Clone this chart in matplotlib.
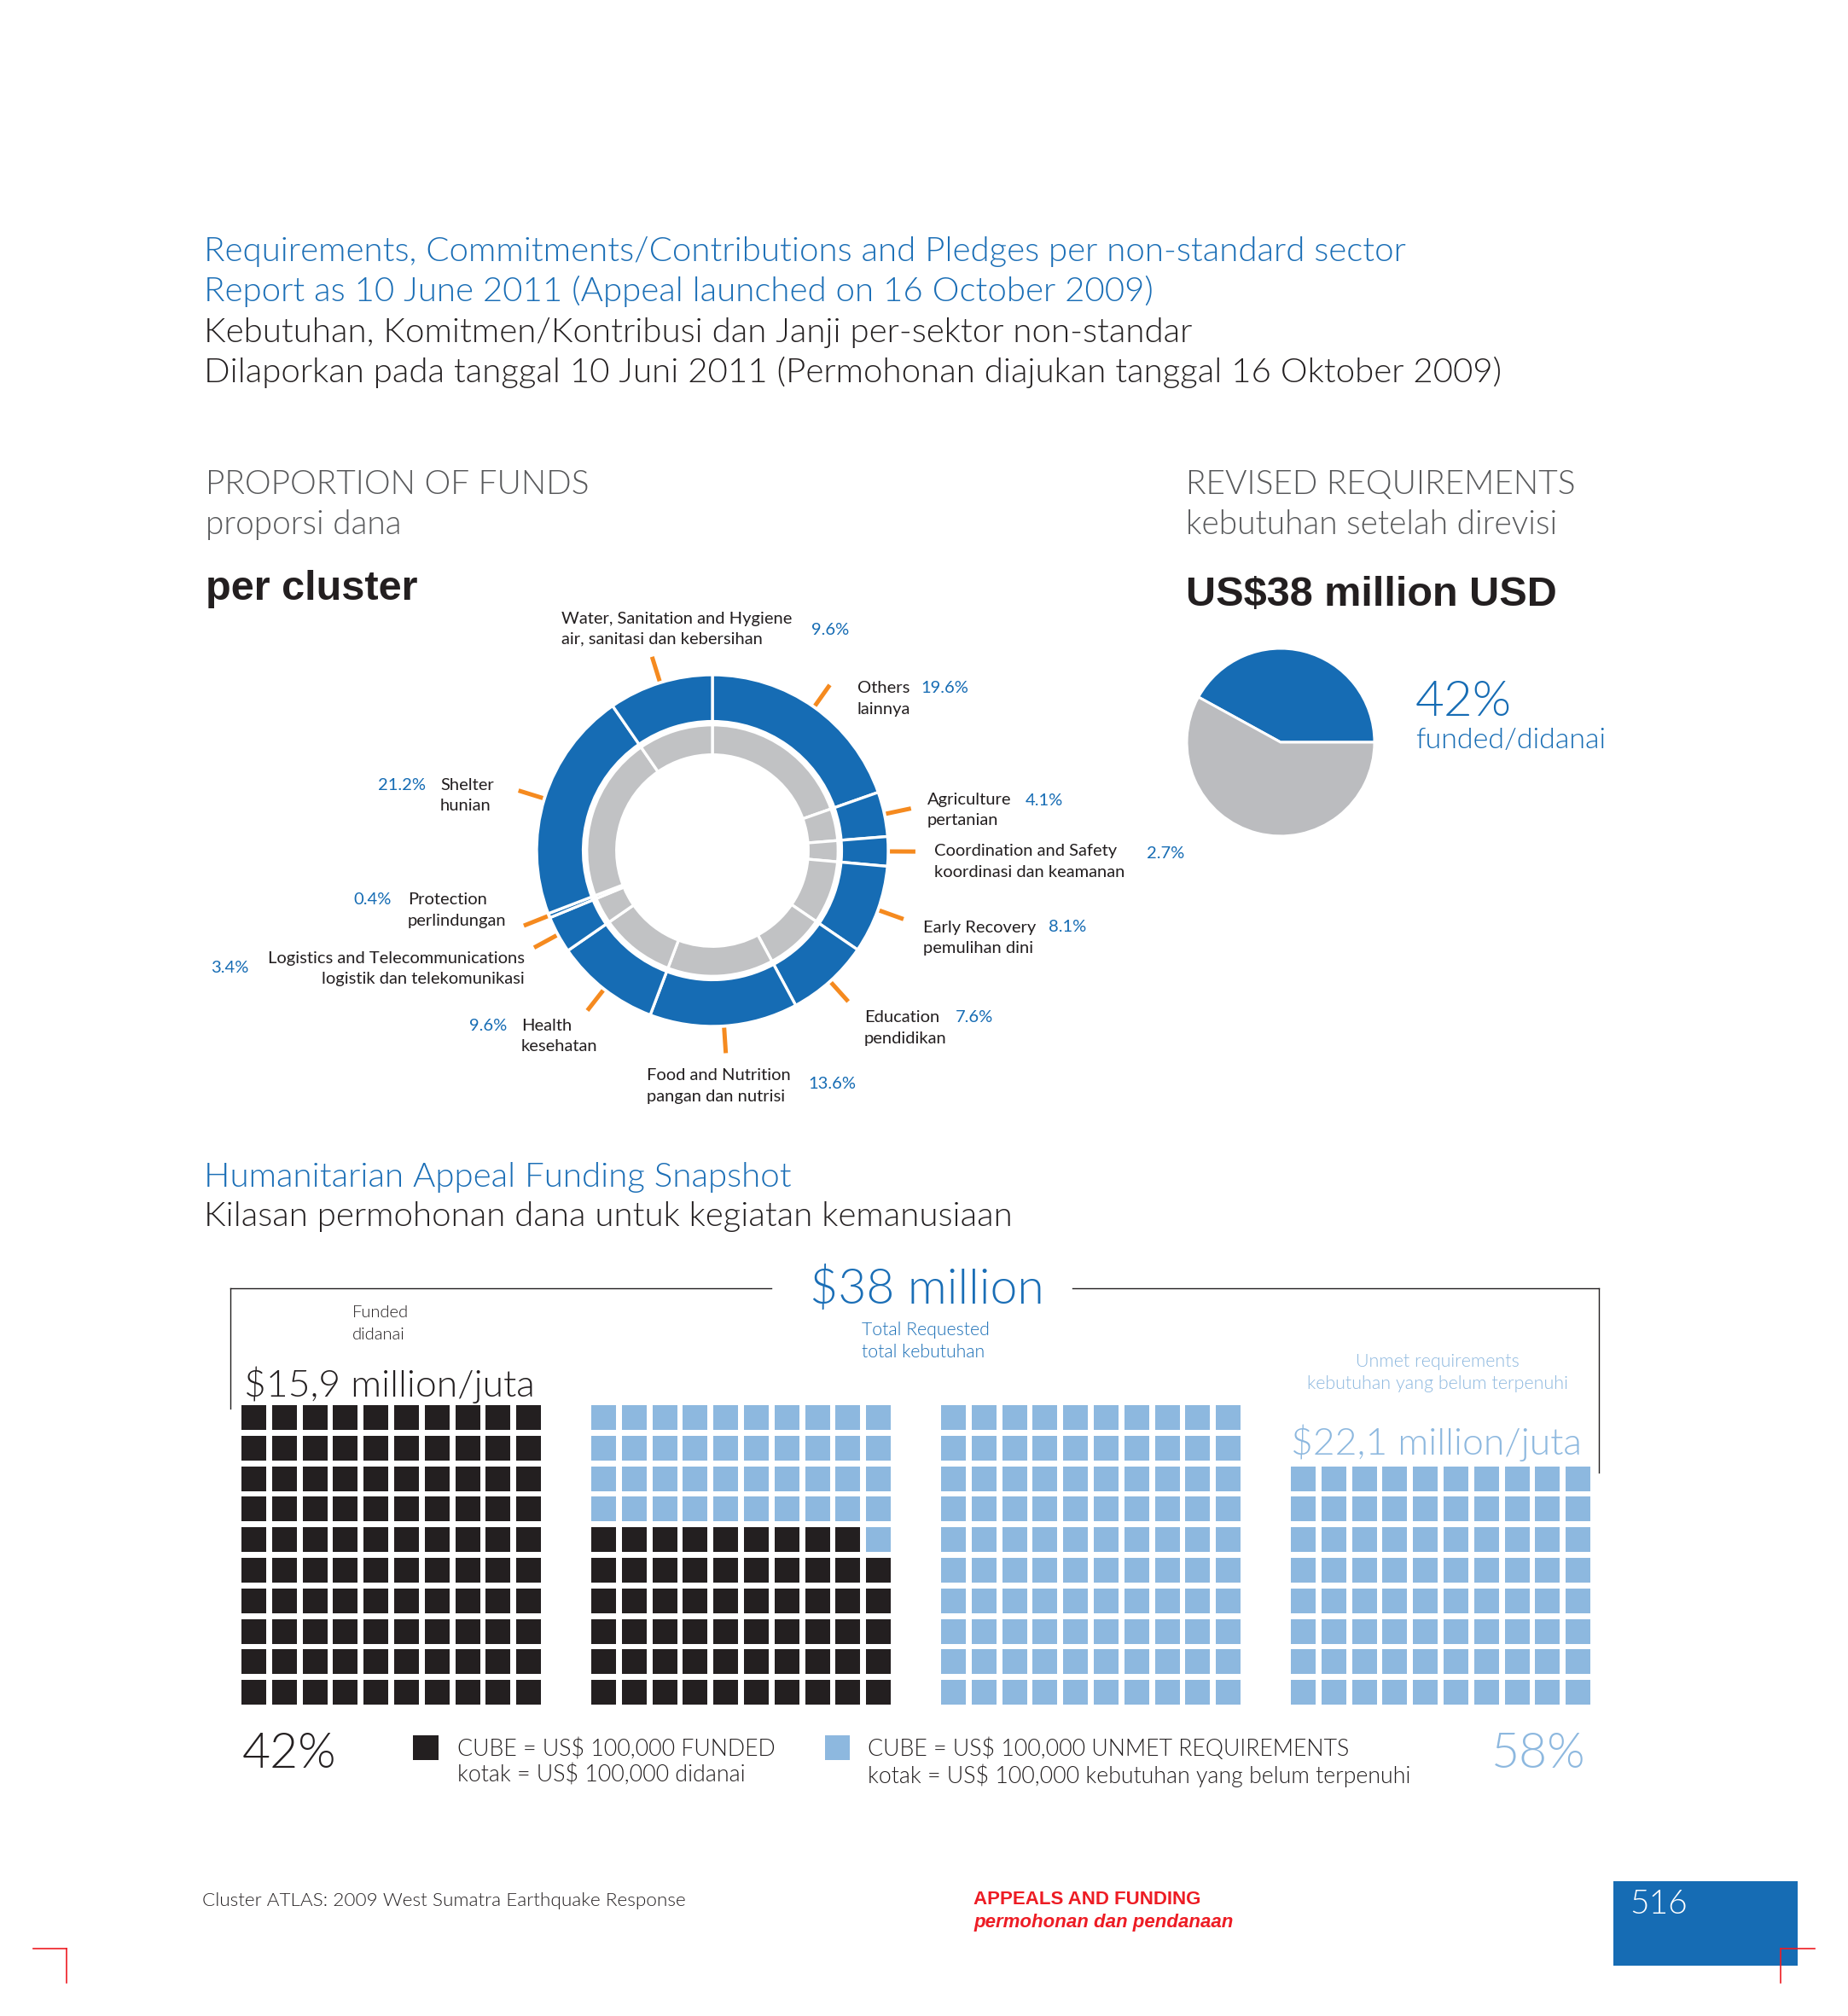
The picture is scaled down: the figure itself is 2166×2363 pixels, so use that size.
import matplotlib.pyplot as plt
from matplotlib.patches import Rectangle
import numpy as np

# COLORS
BLUE = '#166cb4'
TITLE_BLUE = '#1a6eb6'
LIGHT_BLUE = '#8db8df'
RING_GRAY = '#c1c2c4'
PIE_GRAY = '#bbbcbf'
ORANGE = '#f58a1f'
BLACK = '#231f20'
HEAD_GRAY = '#58595b'
RED = '#ed1c24'
FONT = 'Lato'
BOLD_FONT = 'Liberation Sans'

# DATA
sectors = ['Others', 'Agriculture', 'Coordination and Safety', 'Early Recovery',
           'Education', 'Food and Nutrition', 'Health',
           'Logistics and Telecommunications', 'Protection', 'Shelter',
           'Water, Sanitation and Hygiene']
sectors_id = ['lainnya', 'pertanian', 'koordinasi dan keamanan', 'pemulihan dini',
              'pendidikan', 'pangan dan nutrisi', 'kesehatan',
              'logistik dan telekomunikasi', 'perlindungan', 'hunian',
              'air, sanitasi dan kebersihan']
shares = [19.6, 4.1, 2.7, 8.1, 7.6, 13.6, 9.6, 3.4, 0.4, 21.2, 9.6]

funded_pct = 42
unmet_pct = 58
total_requested = 38.0    # US$ million
funded_musd = 15.9
unmet_musd = 22.1
cube_value = 0.1          # US$ million per cube
cubes_per_grid = 100

# label layout around the donut (pixels): name x, line1 y, line2 y, pct x, pct y, name ha, pct ha
label_layout = [
    (1005, 807, 832, 1079, 806, 'left', 'left'),
    (1087, 937, 962, 1202, 938, 'left', 'left'),
    (1095, 998, 1022, 1344, 1001, 'left', 'left'),
    (1082, 1087, 1111, 1229, 1087, 'left', 'left'),
    (1013, 1192, 1217, 1120, 1192, 'left', 'left'),
    (758, 1261, 1286, 947, 1270, 'left', 'left'),
    (611, 1202, 1227, 594, 1202, 'left', 'right'),
    (615, 1123, 1147, 247, 1135, 'right', 'left'),
    (478, 1055, 1080, 459, 1055, 'left', 'right'),
    (516, 920, 945, 499, 920, 'left', 'right'),
    (658, 725, 749, 951, 739, 'left', 'left'),
]

W, H = 2166, 2363
fig = plt.figure(figsize=(W / 100, H / 100), dpi=100)
fig.patch.set_facecolor('w')

# FULL PAGE AXES IN PIXELS
ax = fig.add_axes([0, 0, 1, 1])
ax.set_xlim(0, W)
ax.set_ylim(H, 0)
ax.axis('off')


def txt(x, y, s, size, color=BLACK, ha='left', va='baseline', weight=300,
        family=FONT, **kw):
    ax.text(x, y, s, fontsize=size, color=color, ha=ha, va=va,
            fontweight=weight, fontfamily=family, **kw)


# TITLES
txt(239, 306, 'Requirements, Commitments/Contributions and Pledges per non-standard sector', 29, TITLE_BLUE)
txt(239, 353, 'Report as 10 June 2011 (Appeal launched on 16 October 2009)', 29, TITLE_BLUE)
txt(239, 401, 'Kebutuhan, Komitmen/Kontribusi dan Janji per-sektor non-standar', 29, BLACK)
txt(239, 448, 'Dilaporkan pada tanggal 10 Juni 2011 (Permohonan diajukan tanggal 16 Oktober 2009)', 29, BLACK)

txt(241, 579, 'PROPORTION OF FUNDS', 28, HEAD_GRAY)
txt(241, 626, 'proporsi dana', 28, HEAD_GRAY)
txt(241, 703, 'per cluster', 35, BLACK, weight='bold', family=BOLD_FONT)

txt(1390, 579, 'REVISED REQUIREMENTS', 28, HEAD_GRAY)
txt(1390, 626, 'kebutuhan setelah direvisi', 28, HEAD_GRAY)
txt(1390, 710, 'US$%d million USD' % total_requested, 35, BLACK, weight='bold', family=BOLD_FONT)

# DONUT
cx, cy, R, half = 835, 997, 206, 245
dax = fig.add_axes([(cx - half) / W, (H - cy - half) / H, 2 * half / W, 2 * half / H])
dax.pie(shares, radius=1.0, startangle=90, counterclock=False,
        colors=[BLUE] * len(shares),
        wedgeprops=dict(width=0.265, edgecolor='white', linewidth=2.4))
dax.pie(shares, radius=0.715, startangle=90, counterclock=False,
        colors=[RING_GRAY] * len(shares),
        wedgeprops=dict(width=0.17, edgecolor='white', linewidth=2.4))
frac = np.array(shares) / np.sum(shares)
mid = np.deg2rad(90 - 360 * (np.cumsum(frac) - frac / 2))
for a in mid:
    dax.plot([1.01 * np.cos(a), 1.155 * np.cos(a)], [1.01 * np.sin(a), 1.155 * np.sin(a)],
             color=ORANGE, lw=3.6, solid_capstyle='butt')
dax.set_xlim(-half / R, half / R)
dax.set_ylim(-half / R, half / R)
dax.set_aspect('equal')
dax.axis('off')

for i, (nx, y1, y2, px, py, nha, pha) in enumerate(label_layout):
    txt(nx, y1, sectors[i], 14.5, BLACK, ha=nha, va='center', weight='normal')
    txt(nx, y2, sectors_id[i], 14.5, BLACK, ha=nha, va='center', weight='normal')
    txt(px, py, '%.1f%%' % shares[i], 14.5, BLUE, ha=pha, va='center', weight='normal')

# SMALL PIE
pcx, pcy, pr, ph = 1501, 870, 110, 116
pax = fig.add_axes([(pcx - ph) / W, (H - pcy - ph) / H, 2 * ph / W, 2 * ph / H])
pax.pie([funded_pct, unmet_pct], radius=1.0, startangle=0, counterclock=True,
        colors=[BLUE, PIE_GRAY], wedgeprops=dict(edgecolor='white', linewidth=2.2))
pax.set_xlim(-ph / pr, ph / pr)
pax.set_ylim(-ph / pr, ph / pr)
pax.set_aspect('equal')
pax.axis('off')

txt(1659, 839, '%d%%' % funded_pct, 42, BLUE)
txt(1659, 877, 'funded/didanai', 24.5, BLUE)

# SNAPSHOT HEADER
txt(239, 1391, 'Humanitarian Appeal Funding Snapshot', 29, TITLE_BLUE)
txt(239, 1437, 'Kilasan permohonan dana untuk kegiatan kemanusiaan', 29, BLACK)

# BRACKET
ax.plot([270, 904], [1510, 1510], color=BLACK, lw=1)
ax.plot([270, 270], [1510, 1651], color=BLACK, lw=1)
ax.plot([1257, 1874], [1510, 1510], color=BLACK, lw=1)
ax.plot([1874, 1874], [1510, 1726], color=BLACK, lw=1)

txt(1086, 1528, '$%d million' % total_requested, 41, TITLE_BLUE, ha='center')
txt(1010, 1559, 'Total Requested', 15.3, TITLE_BLUE, va='center')
txt(1010, 1585, 'total kebutuhan', 15.3, TITLE_BLUE, va='center')
txt(413, 1539, 'Funded', 14.5, BLACK, va='center')
txt(413, 1565, 'didanai', 14.5, BLACK, va='center')
txt(286, 1637, ('$%.1f million/juta' % funded_musd).replace('.', ','), 32, BLACK)
txt(1685, 1596, 'Unmet requirements', 15.5, LIGHT_BLUE, ha='center', va='center')
txt(1685, 1622, 'kebutuhan yang belum terpenuhi', 15.5, LIGHT_BLUE, ha='center', va='center')
txt(1513, 1705, ('$%.1f million/juta' % unmet_musd).replace('.', ','), 32, LIGHT_BLUE)

# WAFFLE
n_funded = int(round(funded_musd / cube_value))
n_unmet = int(round(unmet_musd / cube_value))
grid_left, grid_top, grid_step = 283, 1647, 410
pitch, cube = 35.8, 29
for k in range(n_funded + n_unmet):
    g, j = divmod(k, cubes_per_grid)
    row_up, col = divmod(j, 10)
    x = grid_left + g * grid_step + col * pitch
    y = grid_top + (9 - row_up) * pitch
    ax.add_patch(Rectangle((x, y), cube, cube, lw=0,
                           color=BLACK if k < n_funded else LIGHT_BLUE))

# LEGEND
txt(284, 2072, '%d%%' % funded_pct, 41, BLACK)
ax.add_patch(Rectangle((484, 2034), 30, 29, lw=0, color=BLACK))
txt(536, 2050, 'CUBE = US$ 100,000 FUNDED', 19.3, BLACK, va='center')
txt(536, 2081, 'kotak = US$ 100,000 didanai', 19.3, BLACK, va='center')
ax.add_patch(Rectangle((967, 2034), 29, 29, lw=0, color=LIGHT_BLUE))
txt(1017, 2050, 'CUBE = US$ 100,000 UNMET REQUIREMENTS', 19.3, BLACK, va='center')
txt(1017, 2081, 'kotak = US$ 100,000 kebutuhan yang belum terpenuhi', 19.3, BLACK, va='center')
txt(1859, 2072, '%d%%' % unmet_pct, 41, LIGHT_BLUE, ha='right')

# FOOTER
txt(237, 2228, 'Cluster ATLAS: 2009 West Sumatra Earthquake Response', 16.2, BLACK, va='center')
txt(1141, 2227, 'APPEALS AND FUNDING', 16, RED, va='center', weight='bold', family=BOLD_FONT)
txt(1141, 2254, 'permohonan dan pendanaan', 16, RED, va='center', weight='bold',
    family=BOLD_FONT, style='italic')
ax.add_patch(Rectangle((1891, 2205), 216, 99, lw=0, color=BLUE))
txt(1910, 2243, '516', 28, 'white')

# CROP MARKS
ax.plot([39, 78], [2284, 2284], color=RED, lw=1.2)
ax.plot([78, 78], [2284, 2324], color=RED, lw=1.2)
ax.plot([2087, 2127], [2284, 2284], color=RED, lw=1.2)
ax.plot([2087, 2087], [2284, 2324], color=RED, lw=1.2)

plt.savefig('out.png', dpi=100)
